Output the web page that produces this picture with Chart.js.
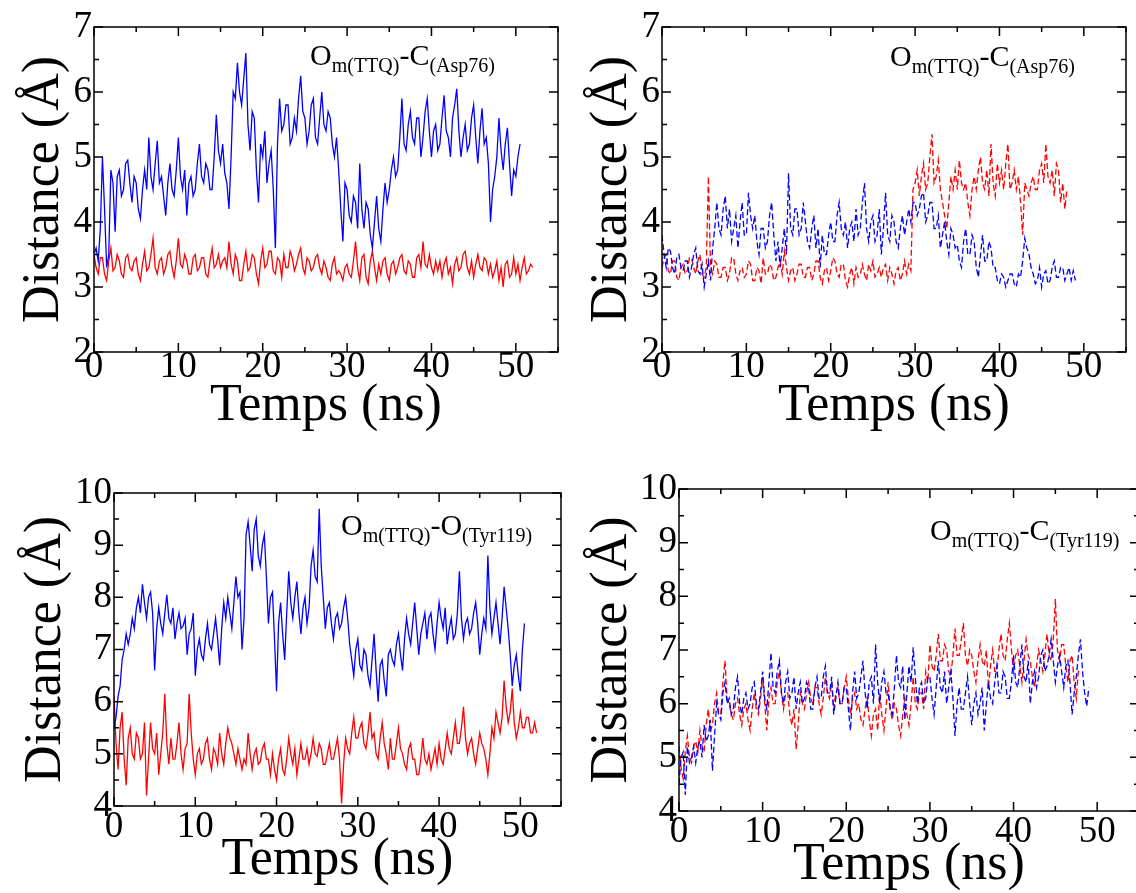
<!DOCTYPE html>
<html>
<head>
<meta charset="utf-8">
<script src="https://cdn.jsdelivr.net/npm/chart.js@4.4.1/dist/chart.umd.min.js"></script>
<style>
html, body { margin:0; padding:0; background:#fff; overflow:hidden; width:1136px; height:893px; }
canvas { position:absolute; }
</style>
</head>
<body>
<canvas id="c1" width="568" height="446" style="left:0;top:0"></canvas>
<canvas id="c2" width="568" height="446" style="left:568px;top:0"></canvas>
<canvas id="c3" width="568" height="447" style="left:0;top:446px"></canvas>
<canvas id="c4" width="590" height="447" style="left:568px;top:446px"></canvas>
<script>
// sampling step of the traces (ns)
const DT = 0.25;

const xTicks = [0, 10, 20, 30, 40, 50];
const yTicksTop = [2, 3, 4, 5, 6, 7];
const yTicksBottom = [4, 5, 6, 7, 8, 9, 10];

// top-left : Om(TTQ)-C(Asp76)
const blue1 = [
  3.5,3.6,3.4,3.9, 5.0,4.2,3.3,3.5,
  4.8,4.6,3.85,4.7, 4.8,4.4,4.5,4.9,
  4.95,4.6,4.3,4.7, 4.6,4.2,4.05,4.5,
  4.8,4.5,5.3,4.7, 4.5,4.9,5.25,4.6,
  4.7,4.4,4.1,4.6, 4.9,4.5,4.4,4.8,
  5.3,4.7,4.5,4.8, 4.1,4.6,4.7,4.4,
  4.5,4.9,5.2,4.7, 4.6,4.9,4.8,4.5,
  4.5,5.0,5.65,5.1, 4.9,5.2,4.75,4.6,
  4.2,5.0,6.0,5.9, 6.45,6.0,5.8,6.2,
  6.6,5.5,5.1,5.7, 5.6,4.8,4.3,5.2,
  5.0,5.4,4.6,4.9, 5.1,4.5,3.6,5.2,
  5.9,5.4,5.5,5.8, 5.8,5.2,5.3,5.6,
  5.4,5.9,6.25,5.7, 5.6,5.2,5.4,5.8,
  5.9,5.3,5.2,5.6, 6.0,5.5,5.4,5.7,
  5.6,5.2,5.0,5.3, 4.8,4.2,3.7,4.6,
  4.5,4.1,4.0,4.4, 4.3,3.9,4.9,4.2,
  3.9,4.3,4.2,3.8, 3.6,4.0,4.4,3.9,
  3.7,4.2,4.6,4.3, 4.5,4.8,5.0,4.7,
  4.8,5.3,5.9,5.2, 5.1,5.5,5.7,5.3,
  5.2,5.6,5.6,5.0, 5.3,5.7,5.9,5.4,
  5.0,5.4,5.5,5.1, 5.2,5.6,5.95,5.4,
  5.3,5.0,5.6,5.8, 6.05,5.4,5.0,5.3,
  5.5,5.1,5.2,5.6, 5.8,5.3,4.9,5.4,
  5.75,5.2,5.3,4.9, 4.0,4.5,4.7,5.0,
  5.6,5.1,4.8,5.2, 5.45,4.9,4.4,4.8,
  4.7,5.0,5.2
];
const red1 = [
  3.5,3.3,3.2,3.45, 3.45,3.2,3.1,3.4,
  3.6,3.25,3.3,3.5, 3.4,3.2,3.15,3.45,
  3.5,3.3,3.25,3.4, 3.45,3.2,3.1,3.35,
  3.55,3.25,3.3,3.5, 3.75,3.3,3.2,3.4,
  3.45,3.2,3.3,3.5, 3.55,3.3,3.15,3.4,
  3.75,3.35,3.3,3.5, 3.4,3.2,3.2,3.45,
  3.5,3.25,3.3,3.45, 3.45,3.2,3.15,3.4,
  3.6,3.3,3.35,3.5, 3.3,3.4,3.45,3.3,
  3.7,3.35,3.2,3.5, 3.4,3.1,3.1,3.35,
  3.55,3.25,3.3,3.5, 3.45,3.2,3.05,3.4,
  3.6,3.3,3.35,3.55, 3.55,3.25,3.2,3.45,
  3.4,3.15,3.5,3.3, 3.3,3.55,3.45,3.25,
  3.35,3.5,3.6,3.3, 3.2,3.45,3.4,3.25,
  3.3,3.45,3.5,3.3, 3.2,3.4,3.3,3.15,
  3.1,3.35,3.45,3.2, 3.25,3.2,3.1,3.3,
  3.35,3.2,3.15,3.4, 3.7,3.3,3.1,3.45,
  3.5,3.15,3.05,3.4, 3.55,3.3,3.1,3.35,
  3.2,3.4,3.45,3.2, 3.1,3.35,3.4,3.2,
  3.3,3.45,3.5,3.25, 3.2,3.4,3.35,3.15,
  3.15,3.45,3.5,3.3, 3.7,3.35,3.3,3.5,
  3.3,3.2,3.4,3.25, 3.4,3.15,3.35,3.45,
  3.2,3.3,3.05,3.35, 3.45,3.25,3.3,3.5,
  3.55,3.3,3.2,3.4, 3.15,3.35,3.5,3.3,
  3.25,3.45,3.4,3.2, 3.35,3.15,3.25,3.4,
  3.1,3.3,3.0,3.35, 3.4,3.15,3.2,3.45,
  3.2,3.35,3.1,3.3, 3.45,3.2,3.25,3.35,
  3.3
];

// top-right : Om(TTQ)-C(Asp76), dashed
const blue2 = [
  3.8,3.5,3.3,3.6, 3.55,3.3,3.2,3.45,
  3.5,3.3,3.25,3.4, 3.4,3.15,3.3,3.5,
  3.6,3.25,3.2,3.35, 3.0,3.2,3.4,3.1,
  3.6,3.9,4.3,3.9, 3.8,4.2,4.4,3.9,
  4.2,3.7,3.9,4.1, 3.6,4.0,4.3,3.8,
  3.8,4.45,4.1,3.9, 4.1,3.7,3.5,3.9,
  3.9,3.6,3.7,4.1, 4.3,3.8,3.4,3.7,
  3.3,3.6,3.9,3.5, 4.75,3.9,3.8,4.2,
  4.2,3.8,3.9,4.3, 4.0,3.7,3.6,3.9,
  4.1,3.6,3.9,3.3, 3.8,3.5,3.5,3.8,
  4.0,3.7,3.7,4.1, 4.3,3.9,3.8,4.0,
  3.6,3.9,4.0,3.7, 4.2,3.8,3.9,4.3,
  4.6,3.9,3.7,4.0, 4.1,3.7,3.8,4.2,
  3.5,3.9,4.45,3.8, 3.7,4.1,4.0,3.7,
  3.6,3.9,4.1,3.8, 4.0,4.2,4.0,4.3,
  4.3,4.1,4.2,4.4, 4.45,4.0,4.1,4.3,
  4.3,3.9,3.9,4.1, 3.6,3.8,4.0,3.7,
  3.5,3.9,3.8,3.6, 3.65,3.4,3.3,3.7,
  3.9,3.5,3.5,3.8, 3.7,3.3,3.15,3.5,
  3.8,3.4,3.4,3.7, 3.6,3.3,3.3,3.1,
  3.05,3.2,3.15,3.0, 3.1,3.2,3.2,3.05,
  3.0,3.2,3.15,3.4, 3.75,3.6,3.5,3.3,
  3.2,3.05,3.1,3.3, 3.0,3.2,3.25,3.05,
  3.1,3.3,3.4,3.15, 3.15,3.3,3.3,3.1,
  3.2,3.3,3.1,3.25, 3.1
];
const red2 = [
  3.3,3.45,3.5,3.25, 3.2,3.4,3.4,3.15,
  3.1,3.3,3.35,3.2, 3.25,3.45,3.45,3.3,
  3.2,3.4,3.5,3.2, 3.15,3.3,4.7,3.3,
  3.2,3.4,3.35,3.15, 3.15,3.3,3.3,3.1,
  3.2,3.45,3.45,3.2, 3.1,3.25,3.3,3.15,
  3.2,3.4,3.35,3.1, 3.1,3.3,3.25,3.05,
  3.45,3.2,3.2,3.35, 3.3,3.1,3.15,3.3,
  3.4,3.2,3.55,3.3, 3.1,3.25,3.3,3.1,
  3.2,3.35,3.35,3.15, 3.15,3.3,3.3,3.1,
  3.2,3.4,3.4,3.15, 3.05,3.25,3.3,3.1,
  3.25,3.45,3.4,3.2, 3.15,3.35,3.35,3.1,
  3.0,3.2,3.3,3.05, 3.3,3.15,3.2,3.35,
  3.2,3.1,3.35,3.25, 3.4,3.15,3.2,3.3,
  3.15,3.3,3.35,3.1, 3.3,3.2,3.05,3.25,
  3.3,3.1,3.2,3.4, 3.2,3.35,3.25,4.5,
  4.6,4.8,4.4,4.7, 4.9,4.5,4.6,5.0,
  5.35,4.6,4.7,4.95, 4.5,4.3,4.1,3.9,
  4.3,4.7,4.5,4.8, 4.5,4.95,4.6,4.5,
  4.6,4.3,4.1,4.5, 4.7,4.5,4.8,5.0,
  4.6,4.5,4.8,4.4, 5.2,4.6,4.4,4.9,
  4.6,4.8,4.5,4.9, 5.2,4.5,4.6,4.8,
  4.5,4.7,4.3,3.8, 4.6,4.5,4.4,4.6,
  4.7,4.5,4.5,4.8, 4.9,4.6,5.2,4.7,
  4.6,4.8,4.4,4.9, 4.8,4.3,4.6,4.2,
  4.5
];

// bottom-left : Om(TTQ)-O(Tyr119)
const blue3 = [
  5.5,5.7,6.1,6.3, 6.8,7.0,7.3,7.1,
  7.3,7.6,7.4,7.8, 8.0,7.7,8.25,7.9,
  7.6,8.0,8.1,7.7, 6.6,7.4,7.8,7.5,
  7.3,7.7,8.05,7.6, 7.5,7.8,7.2,7.5,
  7.7,7.4,7.45,7.6, 6.9,7.3,7.4,7.7,
  6.5,7.0,7.2,6.9, 6.8,7.2,7.5,7.1,
  7.0,7.3,7.6,7.2, 6.7,7.4,7.9,7.6,
  8.0,7.7,7.4,7.9, 8.4,8.0,8.1,7.0,
  7.6,9.2,9.45,9.0, 8.5,9.3,9.5,8.8,
  8.6,9.0,9.2,8.4, 7.5,8.0,8.1,7.2,
  6.2,7.5,7.9,7.3, 6.8,7.7,8.5,7.9,
  7.6,8.0,8.3,7.7, 7.3,7.8,8.0,7.5,
  7.8,8.6,8.9,8.4, 8.3,9.7,8.6,8.0,
  7.4,7.8,7.9,7.5, 7.2,7.6,7.7,7.4,
  7.5,7.8,8.0,7.6, 7.1,6.8,6.5,7.0,
  7.2,6.7,6.6,7.0, 6.9,6.5,6.3,6.8,
  7.3,6.6,6.0,6.7, 6.8,6.4,6.1,6.9,
  7.0,6.8,6.7,7.1, 7.3,6.9,6.6,7.2,
  7.6,7.3,7.1,7.5, 7.9,7.4,6.9,7.3,
  7.5,7.7,7.2,7.6, 7.7,7.3,7.0,7.5,
  7.9,7.6,7.4,7.8, 7.1,7.4,7.6,7.2,
  7.3,7.7,8.5,7.6, 7.2,7.5,7.6,7.3,
  7.4,7.7,7.9,7.5, 6.9,7.3,7.6,7.4,
  8.8,7.8,7.3,7.6, 7.9,7.5,7.1,7.6,
  8.2,7.8,7.4,6.9, 6.3,6.7,6.9,6.5,
  6.2,7.0,7.5
];
const red3 = [
  6.1,5.2,4.7,5.5, 5.8,4.9,4.4,5.3,
  5.5,5.0,4.9,5.4, 5.3,4.9,5.0,5.6,
  4.2,4.9,5.6,5.1, 5.0,5.4,4.6,5.0,
  5.4,6.15,5.2,4.8, 5.3,4.9,4.9,5.2,
  5.6,5.0,4.7,5.1, 5.2,6.15,5.4,4.9,
  4.6,5.0,5.1,4.8, 4.9,5.2,5.3,4.9,
  4.7,5.1,5.0,4.8, 5.4,5.0,4.8,5.2,
  5.5,5.3,5.2,5.0, 4.8,5.1,4.9,4.7,
  4.9,4.8,5.4,5.0, 4.7,5.0,5.1,4.8,
  4.85,5.1,5.2,4.9, 4.9,4.6,5.0,4.7,
  4.5,4.9,5.1,4.7, 4.6,4.9,5.3,5.0,
  4.8,5.1,4.6,4.9, 5.2,4.9,4.9,5.1,
  4.8,5.0,5.3,5.0, 4.95,5.2,5.1,4.8,
  4.8,5.0,5.2,4.9, 4.9,5.1,5.3,4.9,
  4.05,4.8,5.3,5.1, 5.0,5.4,5.7,5.3,
  5.3,5.5,5.6,5.2, 5.1,5.4,5.8,5.3,
  5.4,5.0,4.9,5.3, 5.6,5.2,5.0,4.7,
  5.3,4.9,4.9,5.2, 5.5,5.1,5.0,4.8,
  4.7,5.1,5.2,4.9, 4.9,4.6,4.6,4.9,
  5.3,4.9,4.8,5.0, 4.7,4.9,5.1,4.8,
  5.2,4.9,4.8,5.1, 5.4,5.1,5.0,5.3,
  5.6,5.2,5.2,5.5, 5.9,5.3,5.0,5.2,
  5.3,5.0,4.8,5.1, 5.4,5.2,5.1,4.9,
  4.6,5.0,5.5,5.3, 5.8,5.6,5.4,5.7,
  6.4,5.9,5.6,5.8, 6.25,5.6,5.3,5.5,
  5.8,5.5,5.5,5.7, 5.7,5.4,5.4,5.6,
  5.4
];

// bottom-right : Om(TTQ)-C(Tyr119), dashed
const blue4 = [
  4.5,5.0,5.1,4.3, 5.2,4.9,5.0,5.2,
  4.9,5.2,5.3,5.0, 5.6,5.3,5.4,5.7,
  4.75,5.4,6.0,5.8, 5.7,6.2,6.4,6.0,
  6.1,5.8,5.9,6.3, 6.5,6.0,5.8,6.1,
  6.2,5.9,6.0,6.3, 6.4,6.0,5.9,6.2,
  6.6,6.1,5.9,6.4, 6.95,6.3,6.2,6.6,
  6.8,6.2,6.0,6.4, 6.6,6.1,6.2,6.5,
  5.9,6.2,6.4,6.0, 6.1,6.4,6.3,5.9,
  5.9,6.3,6.5,6.1, 6.1,6.5,6.7,6.2,
  6.2,6.5,5.8,6.1, 6.4,6.0,6.0,6.3,
  6.3,5.9,5.5,6.2, 6.6,6.1,6.2,6.5,
  6.8,6.2,5.9,6.4, 6.5,6.0,7.1,6.4,
  6.0,6.4,6.6,6.2, 6.2,5.9,5.8,6.3,
  6.9,6.4,6.3,6.7, 5.7,6.2,6.7,6.4,
  7.05,6.5,6.0,6.3, 6.4,6.0,6.1,6.5,
  6.5,6.1,5.8,6.3, 6.8,6.3,6.2,6.6,
  6.0,6.3,6.6,6.1, 5.4,6.0,6.3,5.9,
  5.9,6.2,6.5,6.0, 5.6,6.0,6.2,5.8,
  6.0,6.3,5.5,6.0, 6.4,6.1,6.0,6.4,
  6.7,6.2,6.2,6.6, 6.5,6.1,6.1,6.4,
  6.9,6.4,6.3,6.7, 7.1,6.5,6.4,6.8,
  6.0,6.4,6.6,6.3, 6.5,6.9,7.0,6.6,
  6.7,6.9,7.2,6.8, 6.4,6.7,6.9,6.6,
  6.3,6.7,6.8,6.4, 5.8,6.2,6.5,6.9,
  7.2,6.6,6.2,5.95, 6.3
];
const red4 = [
  5.2,4.8,4.6,5.1, 5.4,5.0,4.9,5.2,
  5.3,5.1,5.5,5.2, 5.1,5.6,5.9,5.5,
  5.6,6.0,6.2,5.8, 5.8,6.4,6.8,6.1,
  6.0,5.8,5.7,6.0, 6.1,5.8,5.6,5.9,
  6.0,5.7,5.5,5.9, 6.2,5.9,5.8,6.1,
  6.5,6.0,5.5,6.1, 6.3,6.0,6.0,6.4,
  6.6,6.2,5.9,6.2, 6.2,5.8,5.6,5.9,
  5.15,5.6,6.2,6.0, 5.9,6.2,6.4,6.1,
  6.0,6.3,6.3,6.0, 5.8,6.1,6.5,6.2,
  6.1,6.4,5.9,6.2, 6.3,6.0,6.0,6.3,
  6.5,6.1,5.8,6.1, 6.2,5.9,6.0,5.7,
  5.6,5.9,6.1,5.7, 5.4,5.8,5.9,5.5,
  6.2,5.8,5.5,5.9, 6.4,5.9,5.7,6.0,
  5.9,5.6,5.4,5.8, 6.1,5.8,5.6,6.0,
  6.5,6.0,5.9,6.2, 6.2,5.9,6.6,6.4,
  7.1,6.7,6.6,6.9, 7.3,6.8,6.8,7.1,
  7.0,6.6,6.5,6.9, 7.4,6.9,6.9,7.2,
  7.5,6.9,6.7,7.0, 6.9,6.6,6.4,6.8,
  7.1,6.8,6.7,7.0, 6.3,6.7,7.0,6.6,
  6.6,7.0,7.3,6.9, 6.8,7.2,7.5,7.0,
  6.6,6.9,7.0,6.7, 6.4,6.8,7.2,6.9,
  6.8,6.5,6.3,6.7, 7.0,6.8,6.6,6.9,
  7.3,6.9,6.8,7.2, 7.95,7.0,6.8,7.1,
  7.1,6.7,6.4,6.8, 6.9,6.4,6.1,6.6,
  6.6
];

const SERIF = '"Liberation Serif", "Times New Roman", serif';

function pts(values) {
  return values.map((v, i) => ({ x: i * DT, y: v }));
}

const framePlugin = {
  id: 'frame',
  afterDraw(chart, args, o) {
    const ctx = chart.ctx;
    const a = chart.chartArea;
    const sx = chart.scales.x, sy = chart.scales.y;
    ctx.save();
    ctx.strokeStyle = '#000';
    ctx.lineWidth = 1.5;
    ctx.strokeRect(a.left, a.top, a.right - a.left, a.bottom - a.top);
    ctx.beginPath();
    for (let v = sx.min; v <= sx.max + 1e-9; v += 5) {
      const p = sx.getPixelForValue(v);
      const len = v % 10 === 0 ? 9 : 5;
      ctx.moveTo(p, a.bottom); ctx.lineTo(p, a.bottom - len);
      ctx.moveTo(p, a.top); ctx.lineTo(p, a.top + len);
    }
    for (let v = sy.min; v <= sy.max + 1e-9; v += 0.5) {
      const p = sy.getPixelForValue(v);
      const len = v % 1 === 0 ? 9 : 5;
      ctx.moveTo(a.left, p); ctx.lineTo(a.left + len, p);
      ctx.moveTo(a.right, p); ctx.lineTo(a.right - len, p);
    }
    ctx.stroke();

    // axis titles
    ctx.fillStyle = '#000';
    ctx.font = '52px ' + SERIF;
    ctx.textAlign = 'center';
    ctx.textBaseline = 'alphabetic';
    ctx.fillText('Temps (ns)', (a.left + a.right) / 2, a.bottom + 68);
    ctx.save();
    ctx.translate(o.yTitleX, (a.top + a.bottom) / 2);
    ctx.rotate(-Math.PI / 2);
    ctx.fillText('Distance (\u00C5)', 0, 0);
    ctx.restore();

    // pair label with subscripts
    ctx.textAlign = 'left';
    let x = o.labelX;
    for (const [txt, sub] of o.label) {
      ctx.font = (sub ? '20px ' : '30px ') + SERIF;
      ctx.fillText(txt, x, sub ? o.labelY + 7 : o.labelY);
      x += ctx.measureText(txt).width;
    }
    ctx.restore();
  }
};

function makePanel(id, cfg) {
  new Chart(document.getElementById(id), {
    type: 'line',
    data: {
      datasets: cfg.series.map(s => ({
        data: pts(s.values),
        borderColor: s.color,
        borderWidth: 1.3,
        borderDash: cfg.dashed ? [6, 3] : [],
        pointRadius: 0,
        tension: 0,
        fill: false
      }))
    },
    options: {
      responsive: false,
      animation: false,
      events: [],
      layout: { padding: cfg.padding },
      plugins: {
        legend: { display: false },
        tooltip: { enabled: false },
        frame: cfg.frame
      },
      scales: {
        x: {
          type: 'linear', min: 0, max: 55,
          grid: { display: false, drawTicks: false },
          border: { display: false },
          afterBuildTicks: s => { s.ticks = xTicks.map(v => ({ value: v })); },
          afterFit: s => { s.height = 60; },
          ticks: { color: '#000', padding: cfg.xPad, maxRotation: 0,
                   font: { family: SERIF, size: 37, lineHeight: 1 } }
        },
        y: {
          type: 'linear', min: cfg.yTicks[0], max: cfg.yTicks[cfg.yTicks.length - 1],
          grid: { display: false, drawTicks: false },
          border: { display: false },
          afterBuildTicks: s => { s.ticks = cfg.yTicks.map(v => ({ value: v })); },
          afterFit: s => { s.width = 60; },
          ticks: { color: '#000', padding: 2,
                   font: { family: SERIF, size: 37, lineHeight: 1 } }
        }
      }
    },
    plugins: [framePlugin]
  });
}

const BLUE = '#0000ff', RED = '#ff0000';

makePanel('c1', {
  series: [{ values: blue1, color: BLUE }, { values: red1, color: RED }],
  dashed: false, yTicks: yTicksTop, xPad: -3,
  padding: { left: 34, right: 10, top: 27, bottom: 34 },
  frame: { yTitleX: 58, labelX: 310, labelY: 65,
           label: [['O', 0], ['m(TTQ)', 1], ['-C', 0], ['(Asp76)', 1]] }
});
makePanel('c2', {
  series: [{ values: blue2, color: BLUE }, { values: red2, color: RED }],
  dashed: true, yTicks: yTicksTop, xPad: -3,
  padding: { left: 34, right: 10, top: 27, bottom: 34 },
  frame: { yTitleX: 58, labelX: 322, labelY: 66,
           label: [['O', 0], ['m(TTQ)', 1], ['-C', 0], ['(Asp76)', 1]] }
});
makePanel('c3', {
  series: [{ values: blue3, color: BLUE }, { values: red3, color: RED }],
  dashed: false, yTicks: yTicksBottom, xPad: 3,
  padding: { left: 54, right: 7, top: 47, bottom: 27 },
  frame: { yTitleX: 60, labelX: 341, labelY: 89,
           label: [['O', 0], ['m(TTQ)', 1], ['-O', 0], ['(Tyr119)', 1]] }
});
makePanel('c4', {
  series: [{ values: blue4, color: BLUE }, { values: red4, color: RED }],
  dashed: true, yTicks: yTicksBottom, xPad: 3,
  padding: { left: 51, right: 19, top: 43, bottom: 22 },
  frame: { yTitleX: 58, labelX: 362, labelY: 94,
           label: [['O', 0], ['m(TTQ)', 1], ['-C', 0], ['(Tyr119)', 1]] }
});
</script>
</body>
</html>
